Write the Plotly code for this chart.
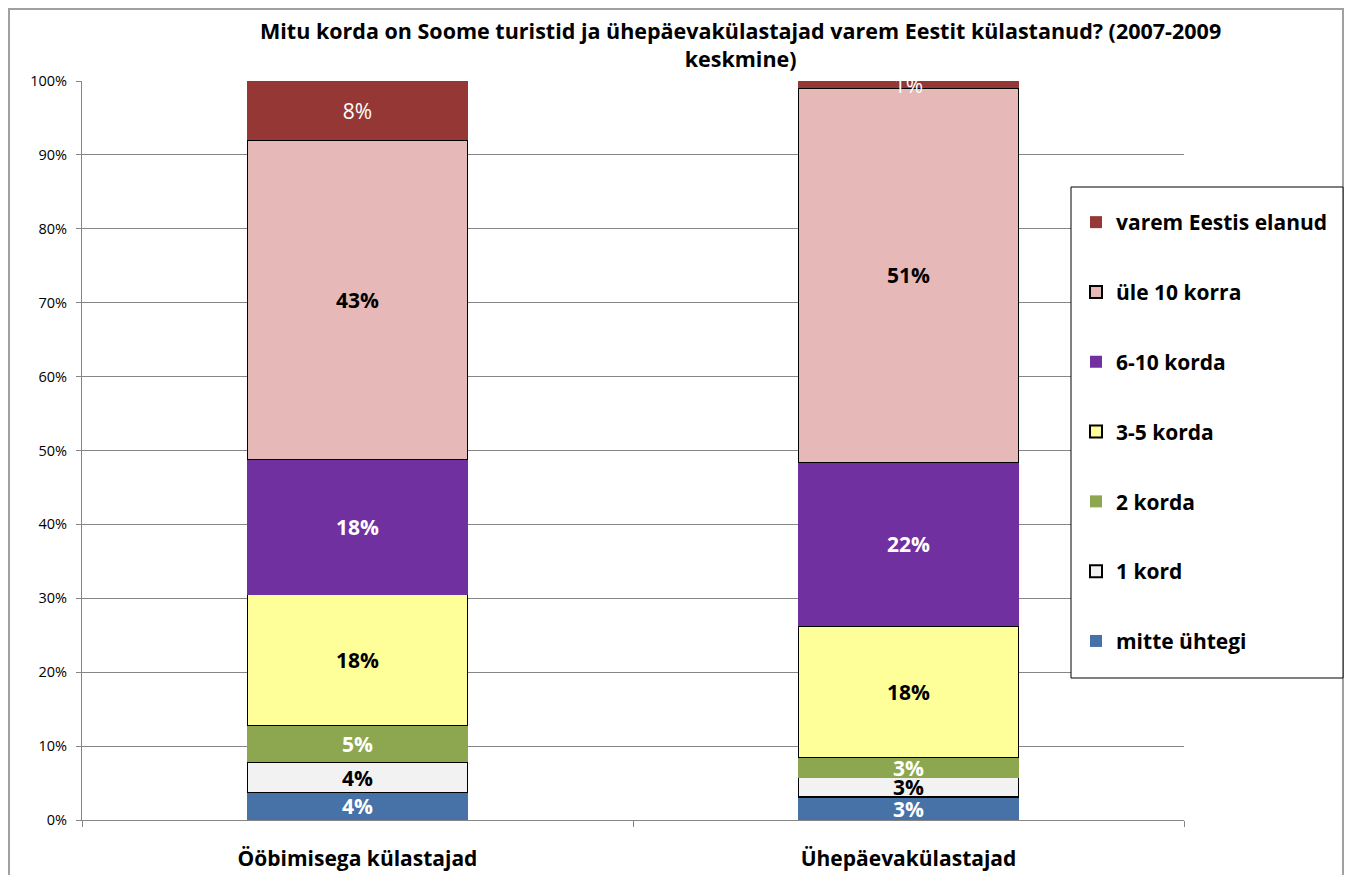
import plotly.graph_objects as go

categories = ["Ööbimisega külastajad", "Ühepäevakülastajad"]
series_names = ["mitte ühtegi", "1 kord", "2 korda", "3-5 korda", "6-10 korda", "üle 10 korra", "varem Eestis elanud"]
mitte_uhtegi = [3.7, 3.1]
uks_kord = [4.1, 2.6]
kaks_korda = [5.0, 2.8]
kolm_viis = [17.7, 17.7]
kuus_kumme = [18.3, 22.2]
ule_kumne = [43.2, 50.6]
varem_elanud = [8.0, 1.0]
y_ticks = [0, 10, 20, 30, 40, 50, 60, 70, 80, 90, 100]
y_tick_labels = [f"{v}%" for v in y_ticks]

series_values = [mitte_uhtegi, uks_kord, kaks_korda, kolm_viis, kuus_kumme, ule_kumne, varem_elanud]
colors = ["#4672A8", "#F2F2F2", "#8CA74F", "#FFFF99", "#7030A0", "#E6B9B8", "#953735"]
text_colors = ["white", "black", "white", "black", "white", "black", "white"]
text_weights = ["bold", "bold", "bold", "bold", "bold", "bold", "normal"]
outlined = [False, True, False, True, False, True, False]

FONT = "Open Sans"

fig = go.Figure()
n = len(series_names)
for i, (name, vals) in enumerate(zip(series_names, series_values)):
    fig.add_trace(go.Bar(
        x=categories, y=vals, name=name,
        legendgroup=name,
        legendrank=100 + (n - i),
        marker=dict(color=colors[i],
                    line=dict(color="black", width=1.2 if outlined[i] else 0)),
        text=[f"{int(v + 0.5)}%" for v in vals],
        textposition="inside",
        insidetextanchor="middle",
        constraintext="none",
        textangle=0,
        cliponaxis=False,
        textfont=dict(family=FONT, size=21, color=text_colors[i], weight=text_weights[i]),
        hoverinfo="skip",
    ))

# page has an 8px body margin: figure coordinates = page coordinates - 8
OFF = 8
W, H = 1356 - OFF, 875 - OFF
L, R, T, B = 82 - OFF, 1184 - OFF, 81 - OFF, 820 - OFF
def px(x):
    return (x - OFF - L) / (R - L)
def py(y):
    return (B - (y - OFF)) / (B - T)

fig.update_layout(
    barmode="stack",
    bargap=0.6,
    width=W, height=H,
    margin=dict(l=L, r=W - R, t=T, b=H - B, pad=0),
    paper_bgcolor="white",
    plot_bgcolor="white",
    font=dict(family=FONT, color="black"),
    showlegend=True,
    legend=dict(
        x=px(1076), y=py(202), xanchor="left", yanchor="top",
        traceorder="grouped",
        tracegroupgap=39.5,
        bgcolor="rgba(0,0,0,0)",
        borderwidth=0,
        font=dict(family=FONT, size=21, color="black", weight="bold"),
        itemsizing="constant",
    ),
    xaxis=dict(
        showgrid=False, automargin=False,
        showline=True, linecolor="#868686", linewidth=1,
        ticks="outside", tickson="boundaries", ticklen=6, tickcolor="#868686",
        tickfont=dict(family=FONT, size=21, color="black", weight="bold"),
        ticklabelstandoff=20,
    ),
    yaxis=dict(
        range=[0, 100], automargin=False,
        tickmode="array", tickvals=y_ticks, ticktext=y_tick_labels,
        showgrid=True, gridcolor="#868686", gridwidth=1,
        showline=True, linecolor="#868686", linewidth=1,
        zeroline=False,
        ticks="outside", ticklen=5, tickcolor="#868686",
        tickfont=dict(family=FONT, size=14.5, color="black"),
        ticklabelstandoff=6,
    ),
    annotations=[dict(
        text="Mitu korda on Soome turistid ja ühepäevakülastajad varem Eestit külastanud? (2007-2009<br>keskmine)",
        xref="paper", yref="paper", x=px(740), y=py(14), xanchor="center", yanchor="top",
        showarrow=False, align="center",
        font=dict(family=FONT, size=21.5, color="black", weight="bold"),
    )],
    shapes=[
        dict(type="rect", xref="paper", yref="paper",
             x0=px(9), x1=px(1343), y0=py(900), y1=py(9),
             line=dict(color="#A0A0A0", width=2), fillcolor="rgba(0,0,0,0)", layer="below"),
        dict(type="rect", xref="paper", yref="paper",
             x0=px(1071), x1=px(1343), y0=py(678), y1=py(187),
             line=dict(color="black", width=1), fillcolor="white", layer="above"),
    ],
)

fig.write_html("out.html")
